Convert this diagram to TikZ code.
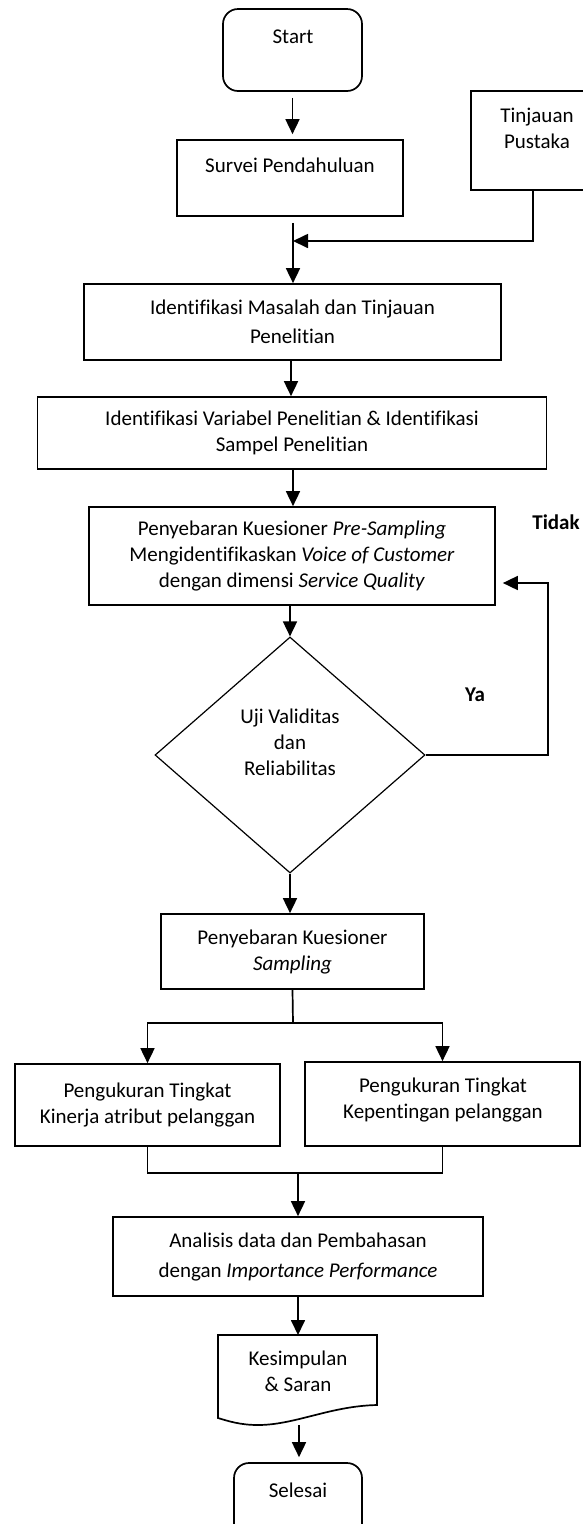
\documentclass[tikz,border=0pt]{standalone}
\usepackage{fontspec}
\setmainfont{Carlito}[Ligatures=NoCommon]
\usetikzlibrary{shapes.geometric,arrows.meta,calc}
\newcommand\dgfont{\fontsize{21}{26}\selectfont}
\begin{document}
\begin{tikzpicture}[x=1pt,y=-1pt,line width=1.7pt,
  box/.style={draw, rectangle, inner sep=0pt, align=center, font=\dgfont},
  rbox/.style={box, rounded corners=15pt},
  txt/.style={inner sep=0pt, align=center, font=\dgfont},
  lbl/.style={inner sep=0pt, font=\dgfont\bfseries},
  arr/.style={-{Triangle[length=15pt,width=14pt]}},
  dec/.style={draw, diamond, inner sep=0pt, line width=1.2pt}]
\fill[white] (0,0) rectangle (582,1524);
\useasboundingbox (0,0) rectangle (582,1524);
% shapes
\node[rbox, minimum width=139, minimum height=82] (start) at (292.5,50) {};
\node[txt] (tstart) at (293,37) {Start};
\node[box, minimum width=226, minimum height=76] (survei) at (290,178) {};
\node[txt] (tsurvei) at (290,165) {Survei Pendahuluan};
\node[box, minimum width=124, minimum height=99] (tinj) at (533,140.5) {};
\node[txt] (ttinj) at (537,128.5) {Tinjauan\\Pustaka};
\node[box, minimum width=417, minimum height=76] (masalah) at (292.5,322) {Identifikasi Masalah dan Tinjauan\\[3pt]Penelitian};
\node[box, minimum width=509, minimum height=72] (variabel) at (292,433) {Identifikasi Variabel Penelitian \& Identifikasi\\Sampel Penelitian};
\node[box, minimum width=406, minimum height=98] (presamp) at (292,556) {Penyebaran Kuesioner \textit{Pre-Sampling}\\Mengidentifikaskan \textit{Voice of Customer}\\dengan dimensi \textit{Service Quality}};
\node[dec, minimum width=270, minimum height=236] (dia) at (290,755) {};
\node[txt] (tdia) at (290,742) {Uji Validitas\\dan\\Reliabilitas};
\node[box, minimum width=263, minimum height=75] (samp) at (292.5,951.5) {Penyebaran Kuesioner\\\textit{Sampling}};
\node[box, minimum width=265, minimum height=82] (kin) at (147.5,1105) {Pengukuran Tingkat\\Kinerja atribut pelanggan};
\node[box, minimum width=275, minimum height=84] (kep) at (442.5,1104) {};
\node[txt] (tkep) at (443,1099.5) {Pengukuran Tingkat\\Kepentingan pelanggan};
\node[box, minimum width=370, minimum height=79] (anal) at (298,1256.5) {Analisis data dan Pembahasan\\[4pt]dengan \textit{Importance Performance}};
\draw (218,1335) -- (377,1335) -- (377,1405) .. controls (330,1406) and (295,1425) .. (258,1425) .. controls (240,1425) and (228,1421) .. (218,1418) -- cycle;
\node[txt] (kes) at (298,1371.5) {Kesimpulan\\\& Saran};
\node[rbox, minimum width=128, minimum height=80] (sel) at (298,1503) {};
\node[txt] (tsel) at (298,1490) {Selesai};
\node[lbl] (tidak) at (556,522) {Tidak};
\node[lbl] (ya) at (475,695) {Ya};
% coordinates
\coordinate (j1) at (293,241);
\coordinate (fb) at (548,583);
\coordinate (split) at (293,1023);
\coordinate (mrg) at (298,1173);
\coordinate (kestop) at (298,1335);
\coordinate (kesbot) at (299,1425);
% connectors
\draw[arr, shorten <=6pt, shorten >=5pt] (start.south) -- (survei.north -| start.south);
\draw[arr, shorten <=6pt] (survei.south -| j1) -- (masalah.north -| j1);
\draw[arr] (tinj.south) |- (j1);
\draw[arr] (masalah.south -| 291,0) -- (variabel.north -| 291,0);
\draw[arr] (variabel.south -| 293,0) -- (presamp.north -| 293,0);
\draw[arr] (presamp.south -| dia.north) -- (dia.north);
\draw[arr, shorten >=7pt] (dia.east) -| (fb) -- (fb -| presamp.east);
\draw[arr] (dia.south) -- (samp.north -| dia.south);
\draw (samp.south) -- (split);
\draw[arr] (split) -| (kin.north);
\draw[arr] (split) -| (kep.north);
\draw (kin.south) |- (mrg) -| (kep.south);
\draw[arr] (mrg) -- (anal.north);
\draw[arr] (anal.south) -- (kestop);
\draw[arr, shorten >=5pt] (kesbot) -- (sel.north -| kesbot);
\end{tikzpicture}
\end{document}
